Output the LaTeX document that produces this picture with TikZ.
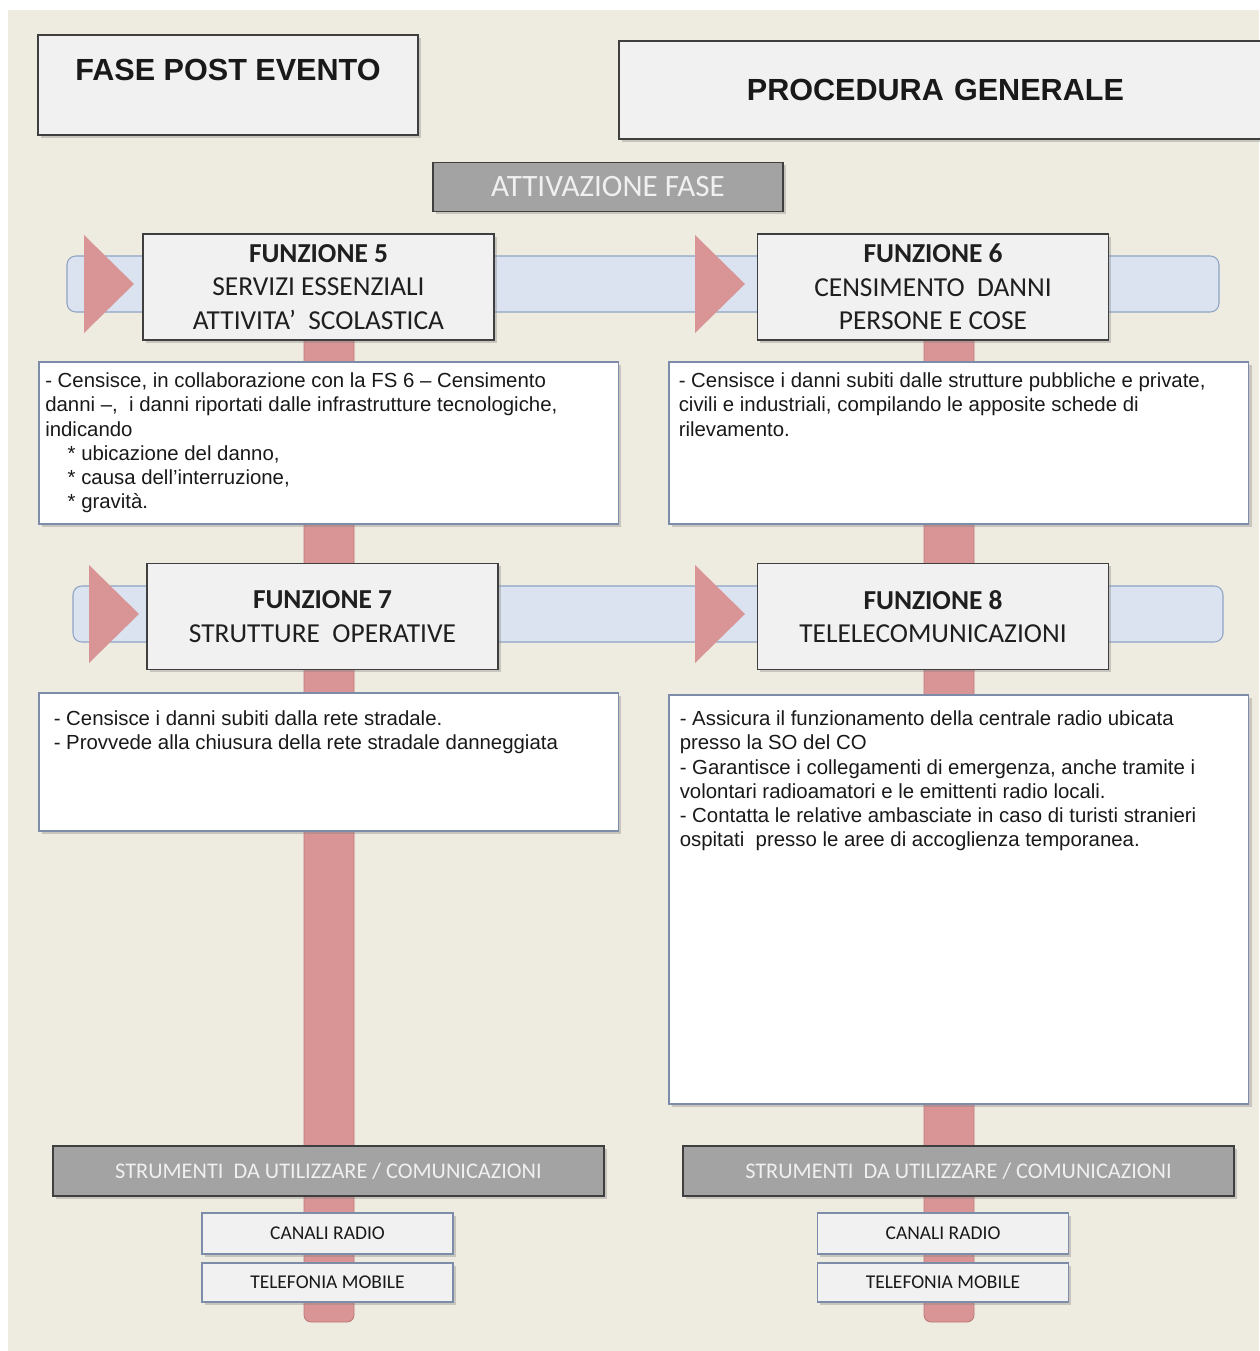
\documentclass[tikz,border=0pt]{standalone}
\usepackage{fontspec}
\setmainfont{Liberation Sans}
\newfontfamily\calib{Carlito}
\usetikzlibrary{calc,shadows}

\definecolor{sfondo}{HTML}{EEEBE0}
\definecolor{grigiochiaro}{HTML}{F1F1F1}
\definecolor{bordo}{HTML}{3F3F3F}
\definecolor{fascia}{HTML}{DCE3F0}
\definecolor{bordofascia}{HTML}{8FA3C4}
\definecolor{rosa}{HTML}{D99595}
\definecolor{bordorosa}{HTML}{BF7B7B}
\definecolor{grigio}{HTML}{A3A3A3}
\definecolor{bordocasella}{HTML}{7D8CA8}

\pgfdeclarelayer{back}
\pgfdeclarelayer{bars}
\pgfsetlayers{back,bars,main}

\tikzset{
  ombra/.style={drop shadow={shadow xshift=1.6pt, shadow yshift=-1.6pt, opacity=0.35}},
  hdrbox/.style={draw=bordo, line width=1pt, fill=grigiochiaro, ombra, inner sep=0pt,
    font=\bfseries\fontsize{17.4}{20}\selectfont, text=black!90},
  funbox/.style={draw=bordo, line width=1pt, fill=grigiochiaro, ombra, align=center,
    minimum width=7.02cm, minimum height=2.12cm, font=\calib\fontsize{15.6}{19}\selectfont, text=black!88},
  greybar/.style={draw=bordo, line width=0.8pt, fill=grigio, ombra, text=white!94!black},
  txtbox/.style={draw=bordocasella, line width=0.9pt, fill=white, ombra, anchor=north west,
    font=\fontsize{11.6}{13.8}\selectfont, text=black!90},
  toolbox/.style={draw=bordocasella, line width=0.9pt, fill=grigiochiaro, ombra, minimum width=5.02cm,
    font=\calib\fontsize{11.1}{13}\selectfont, text=black!90},
  fasciabox/.style={draw=bordofascia, fill=fascia, rounded corners=5pt, line width=0.6pt},
  pinkbar/.style={draw=bordorosa, fill=rosa, line width=0.5pt, rounded corners=4pt},
}

\begin{document}
\begin{tikzpicture}[x=0.02cm, y=-0.02cm]

    \useasboundingbox (0,0) rectangle (1259,1351);
    \begin{pgfonlayer}{back}
        \fill[white] (0,0) rectangle (1259,1351);
        \fill[sfondo] (8,10) rectangle (1259,1351);
    \end{pgfonlayer}

    % fasce azzurre e frecce
    \draw[fasciabox] (67,256) rectangle (1219,312);
    \draw[fasciabox] (73,586) rectangle (1223,642);
    \foreach \x/\y in {84/284, 695/284, 89/614, 695/614}
        \fill[rosa] (\x,\y-49) -- (\x+50,\y) -- (\x,\y+49) -- cycle;

    \node[hdrbox, anchor=north, minimum width=7.6cm, text height=0.92cm, text depth=1.08cm] (fase) at (228,34) {FASE POST EVENTO};
    \node[hdrbox, anchor=north west, text width=13.3cm, align=left, minimum height=1.96cm] (proc) at (618,40) {\hspace*{2.56cm}PROCEDURA GENERALE};

    \node[greybar, minimum width=7cm, minimum height=0.98cm, font=\calib\fontsize{17.7}{20}\selectfont] (attiv) at (608,187) {ATTIVAZIONE FASE};

    \node[funbox] (f5) at (318.5,287) {\textbf{FUNZIONE 5}\\SERVIZI ESSENZIALI\\ATTIVITA’~ SCOLASTICA};
    \node[funbox] (f6) at (933,287) {\textbf{FUNZIONE 6}\\CENSIMENTO~ DANNI\\PERSONE E COSE};
    \node[funbox] (f7) at (322.5,616.5) {\textbf{FUNZIONE 7}\\STRUTTURE~ OPERATIVE};
    \node[funbox] (f8) at (933,616.5) {\textbf{FUNZIONE 8}\\TELELECOMUNICAZIONI};

    \node[txtbox, inner xsep=0.13cm, inner ysep=0.22cm] (d5) at (38,361) {\parbox[t][2.80cm][t]{11.34cm}{\raggedright
        - Censisce, in collaborazione con la FS 6 – Censimento\\
        danni –,~ i danni riportati dalle infrastrutture tecnologiche,\\
        indicando\\
        \hspace*{1.1em}* ubicazione del danno,\\
        \hspace*{1.1em}* causa dell’interruzione,\\
        \hspace*{1.1em}* gravità.}};
    \node[txtbox, inner xsep=0.2cm, inner ysep=0.22cm] (d6) at (668,361) {\parbox[t][2.80cm][t]{11.2cm}{\raggedright
        - Censisce i danni subiti dalle strutture pubbliche e private,\\
        civili e industriali, compilando le apposite schede di\\
        rilevamento.}};
    \node[txtbox, inner xsep=0.3cm, inner ysep=0.36cm] (d7) at (38,692) {\parbox[t][2.04cm][t]{11.0cm}{\raggedright
        - Censisce i danni subiti dalla rete stradale.\\
        - Provvede alla chiusura della rete stradale danneggiata}};
    \node[txtbox, inner xsep=0.22cm, inner ysep=0.32cm] (d8) at (668,694) {\parbox[t][7.54cm][t]{11.16cm}{\raggedright
        - Assicura il funzionamento della centrale radio ubicata\\
        presso la SO del CO\\
        - Garantisce i collegamenti di emergenza, anche tramite i\\
        volontari radioamatori e le emittenti radio locali.\\
        - Contatta le relative ambasciate in caso di turisti stranieri\\
        ospitati~ presso le aree di accoglienza temporanea.}};

    \node[greybar, minimum width=11.02cm, minimum height=1cm, font=\calib\fontsize{12.7}{15}\selectfont] (strL) at (328.5,1171) {STRUMENTI~ DA UTILIZZARE / COMUNICAZIONI};
    \node[greybar, minimum width=11.02cm, minimum height=1cm, font=\calib\fontsize{12.7}{15}\selectfont] (strR) at (958.5,1171) {STRUMENTI~ DA UTILIZZARE / COMUNICAZIONI};

    \node[toolbox, minimum height=0.82cm] (radioL) at (327.5,1233.5) {CANALI RADIO};
    \node[toolbox, minimum height=0.78cm] (telL) at (327.5,1282.5) {TELEFONIA MOBILE};
    \node[toolbox, minimum height=0.82cm] (radioR) at (943,1233.5) {CANALI RADIO};
    \node[toolbox, minimum height=0.78cm] (telR) at (943,1282.5) {TELEFONIA MOBILE};

    % barre verticali
    \coordinate (tailL) at (329,1322);
    \coordinate (tailR) at (949,1322);
    \path (f5.center -| tailL) coordinate (headL);
    \path (f6.center -| tailR) coordinate (headR);
    \begin{pgfonlayer}{bars}
        \foreach \h/\t in {headL/tailL, headR/tailR}
            \draw[pinkbar] ($(\h)+(-25,0)$) rectangle ($(\t)+(25,0)$);
    \end{pgfonlayer}

\end{tikzpicture}
\end{document}
